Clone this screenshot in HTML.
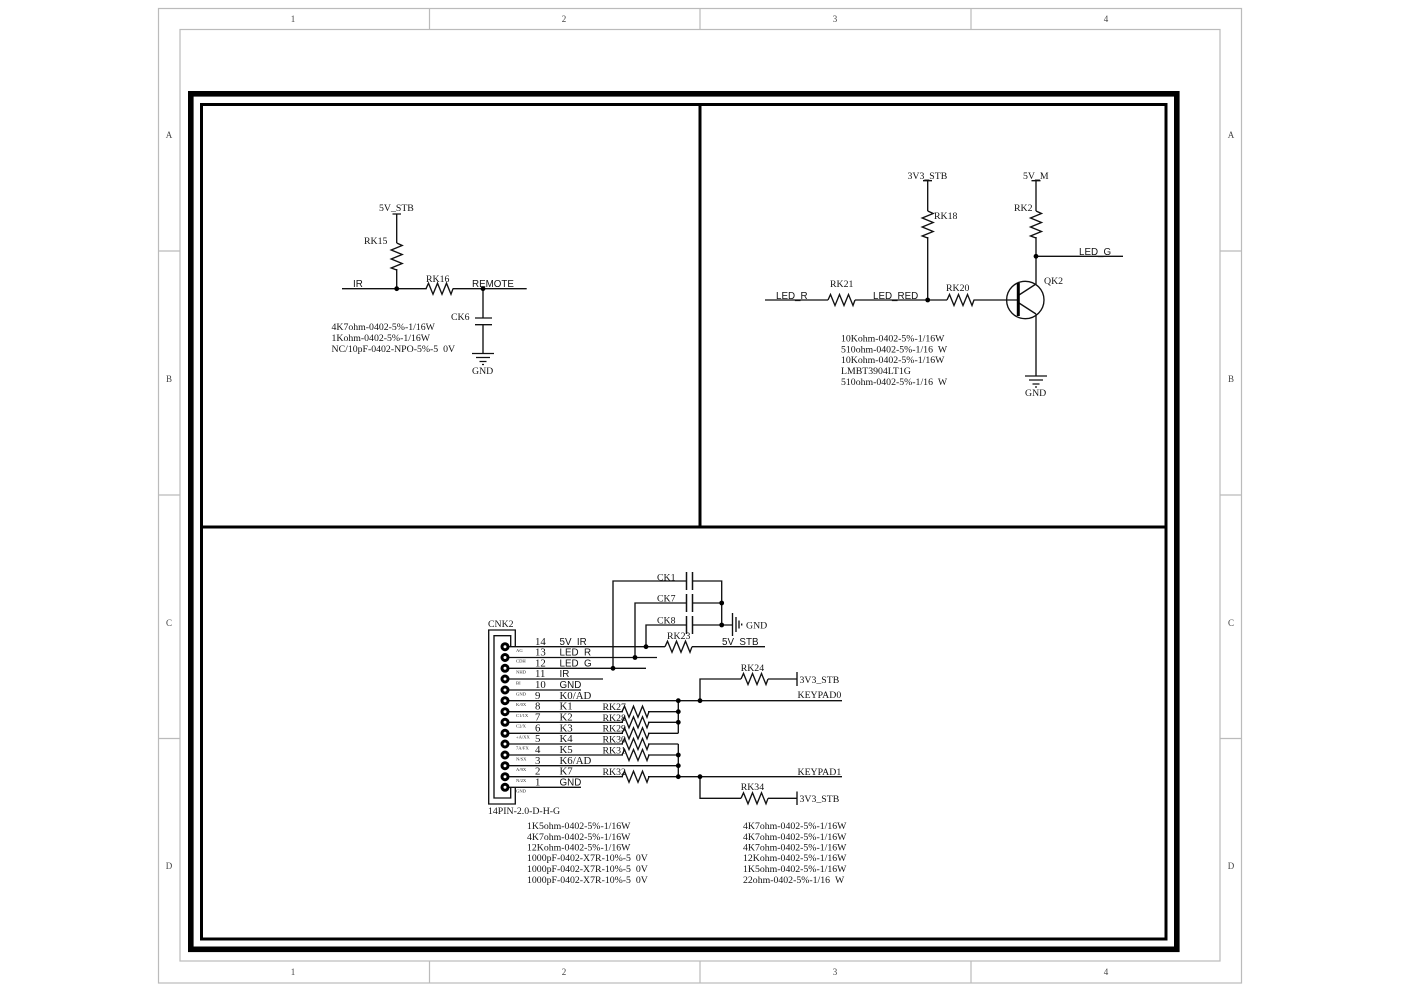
<!DOCTYPE html>
<html><head><meta charset="utf-8"><style>
html,body{margin:0;padding:0;background:#fff;width:1404px;height:992px;overflow:hidden}
svg{display:block}
text{font-family:"Liberation Serif",serif;font-size:9.8px;fill:#111}
.s{font-family:"Liberation Sans",sans-serif;font-size:9.8px}
.p{font-size:10.8px}
.t{font-size:4.6px;fill:#222}
.b{font-size:9px;fill:#444}
.w{fill:none;stroke:#111;stroke-width:1.35}
</style></head><body>
<svg width="1404" height="992" viewBox="0 0 1404 992" xmlns="http://www.w3.org/2000/svg">
<defs>
<path id="rh" d="M0 0L2.5-5.5L7 5.5L11.5-5.5L16 5.5L20.5-5.5L25 5.5L27 0" fill="none" stroke="#111" stroke-width="1.35"/>
<path id="gnd" d="M-11 0H11M-7 4H7M-3.5 8H3.5M-1 11H1" fill="none" stroke="#111" stroke-width="1.35"/>
</defs>
<g fill="none" stroke="#bbb" stroke-width="1.2">
<rect x="158.5" y="8.5" width="1083" height="974.5"/>
<rect x="180" y="29.5" width="1040" height="931.5"/>
<path d="M429.5 8V29M700 8V29M971 8V29M429.5 961V983M700 961V983M971 961V983M158 251H180M158 495H180M158 738.5H180M1220 251H1241M1220 495H1241M1220 738.5H1241"/>
</g>
<g>
<text class="b" x="293" y="22" text-anchor="middle">1</text><text class="b" x="564" y="22" text-anchor="middle">2</text><text class="b" x="835" y="22" text-anchor="middle">3</text><text class="b" x="1106" y="22" text-anchor="middle">4</text>
<text class="b" x="293" y="975" text-anchor="middle">1</text><text class="b" x="564" y="975" text-anchor="middle">2</text><text class="b" x="835" y="975" text-anchor="middle">3</text><text class="b" x="1106" y="975" text-anchor="middle">4</text>
<text class="b" x="169" y="138" text-anchor="middle">A</text><text class="b" x="169" y="382" text-anchor="middle">B</text><text class="b" x="169" y="626" text-anchor="middle">C</text><text class="b" x="169" y="869" text-anchor="middle">D</text>
<text class="b" x="1231" y="138" text-anchor="middle">A</text><text class="b" x="1231" y="382" text-anchor="middle">B</text><text class="b" x="1231" y="626" text-anchor="middle">C</text><text class="b" x="1231" y="869" text-anchor="middle">D</text>
</g>
<rect x="190.8" y="93.8" width="986" height="855.5" fill="none" stroke="#000" stroke-width="5.6"/>
<rect x="201.5" y="104.5" width="964.5" height="834.5" fill="none" stroke="#000" stroke-width="3"/>
<path d="M201 527H1166M700 105V527" fill="none" stroke="#000" stroke-width="3"/>

<!-- top-left -->
<path class="w" d="M392.5 214H401M396.7 214V243M396.7 269V288.7M342 288.7H426.7M452.7 288.7H526.7M483 288.7V318M475 318H492M475 324.7H492M483 324.7V353.5"/>
<use href="#rh" transform="translate(396.7,243) rotate(90)"/>
<use href="#rh" transform="translate(426,288.7)"/>
<use href="#gnd" transform="translate(483,353.5)"/>
<circle cx="396.7" cy="288.7" r="2.4"/><circle cx="483" cy="288.7" r="2.4"/>
<text x="379" y="211">5V_STB</text><text x="364" y="244">RK15</text><text class="s" x="353" y="287">IR</text>
<text x="426" y="282">RK16</text><text class="s" x="472" y="287">REMOTE</text><text x="451" y="320">CK6</text><text x="472" y="374">GND</text>
<text x="331.5" y="330">4K7ohm-0402-5%-1/16W</text><text x="331.5" y="341">1Kohm-0402-5%-1/16W</text><text x="331.5" y="352">NC/10pF-0402-NPO-5%-5&#160;&#160;0V</text>

<!-- top-right -->
<path class="w" d="M923 180.7H932M927.7 180.7V211M927.7 237V300M1031.5 180.7H1040.5M1036 180.7V211M1036 237V284M1036 256.3H1123M765 300H828M855 300H947M973.5 300H1018M1019 295L1036 284M1019 303L1036 314M1036 314V376"/>
<use href="#rh" transform="translate(927.7,211) rotate(90)"/>
<use href="#rh" transform="translate(1036,211) rotate(90)"/>
<use href="#rh" transform="translate(828,300)"/>
<use href="#rh" transform="translate(947,300)"/>
<circle class="w" cx="1025.3" cy="300" r="18.7"/>
<path d="M1018.3 283V316" stroke="#000" stroke-width="3"/>
<use href="#gnd" transform="translate(1036,376)"/>
<circle cx="927.7" cy="300" r="2.4"/><circle cx="1036" cy="256.3" r="2.4"/>
<text x="907.5" y="179">3V3_STB</text><text x="1023" y="179">5V_M</text><text x="934" y="219">RK18</text><text x="1014" y="211">RK2</text>
<text class="s" x="1079" y="255">LED_G</text><text x="1044" y="284">QK2</text><text class="s" x="776" y="299">LED_R</text><text x="830" y="287">RK21</text>
<text class="s" x="873" y="299">LED_RED</text><text x="946" y="291">RK20</text><text x="1025" y="396">GND</text>
<text x="841" y="341.5">10Kohm-0402-5%-1/16W</text><text x="841" y="352.5">510ohm-0402-5%-1/16&#160;&#160;W</text><text x="841" y="363">10Kohm-0402-5%-1/16W</text><text x="841" y="374">LMBT3904LT1G</text><text x="841" y="385">510ohm-0402-5%-1/16&#160;&#160;W</text>

<!-- connector -->
<path class="w" d="M515.3 646.7V630H488.7V804H515.3V787.3M510.7 646.7V635.7H494V798H510.7V787.3"/>
<path class="w" d="M508 646.7H665M692 646.7H765M508 657.5H657M508 668.3H646M508 679H603M508 690H581M508 700.7H842M508 711.7H623M648 711.7H678.3M508 722.3H623M648 722.3H678.3M508 733.3H623M648 733.3H678.3M508 744H623M648 744H678.3M508 755H623M648 755H678.3M508 765.7H678.3M508 776.7H623M648 776.7H842M508 787.3H581M678.3 700.7V733.3M678.3 744V776.7M700 700.7V679H741M768 679H797M797 672V686M700 776.7V798.3H741M768 798.3H797M797 791.5V805"/>
<g fill="#fff" stroke="#000" stroke-width="3">
<circle cx="505" cy="646.7" r="3"/><circle cx="505" cy="657.5" r="3"/><circle cx="505" cy="668.3" r="3"/><circle cx="505" cy="679" r="3"/><circle cx="505" cy="690" r="3"/><circle cx="505" cy="700.7" r="3"/><circle cx="505" cy="711.7" r="3"/><circle cx="505" cy="722.3" r="3"/><circle cx="505" cy="733.3" r="3"/><circle cx="505" cy="744" r="3"/><circle cx="505" cy="755" r="3"/><circle cx="505" cy="765.7" r="3"/><circle cx="505" cy="776.7" r="3"/><circle cx="505" cy="787.3" r="3"/>
</g>
<g><use href="#rh" transform="translate(622,711.7)"/><use href="#rh" transform="translate(622,722.3)"/><use href="#rh" transform="translate(622,733.3)"/><use href="#rh" transform="translate(622,744)"/><use href="#rh" transform="translate(622,755)"/><use href="#rh" transform="translate(622,776.7)"/><use href="#rh" transform="translate(665,646.7)"/><use href="#rh" transform="translate(741,679)"/><use href="#rh" transform="translate(741,798.3)"/></g>
<path class="w" d="M613 668.3V581H686M635 657.5V603H686M646 646.7V625H686M693 581H721.7V625M693 603H721.7M693 625H732"/>
<path d="M686.5 572V590M692.5 572V590M686.5 594V612M692.5 594V612M686.5 616V634M692.5 616V634" fill="none" stroke="#111" stroke-width="1.5"/>
<path class="w" d="M732.5 613V636M736 617V632M739 620.5V628.5M741.7 623.5V625.5"/>
<g><circle cx="613" cy="668.3" r="2.4"/><circle cx="635" cy="657.5" r="2.4"/><circle cx="646" cy="646.7" r="2.4"/><circle cx="721.7" cy="603" r="2.4"/><circle cx="721.7" cy="625" r="2.4"/><circle cx="678.3" cy="700.7" r="2.4"/><circle cx="678.3" cy="711.7" r="2.4"/><circle cx="678.3" cy="722.3" r="2.4"/><circle cx="678.3" cy="755" r="2.4"/><circle cx="678.3" cy="765.7" r="2.4"/><circle cx="678.3" cy="776.7" r="2.4"/><circle cx="700" cy="700.7" r="2.4"/><circle cx="700" cy="776.7" r="2.4"/></g>

<text x="488" y="627">CNK2</text><text x="488" y="814">14PIN-2.0-D-H-G</text>
<g transform="translate(0,-0.7)">
<text class="p" x="535" y="645.5">14</text><text class="p" x="535" y="656">13</text><text class="p" x="535" y="667">12</text><text class="p" x="535" y="677.5">11</text><text class="p" x="535" y="688.5">10</text><text class="p" x="535" y="699.5">9</text><text class="p" x="535" y="710">8</text><text class="p" x="535" y="721">7</text><text class="p" x="535" y="732">6</text><text class="p" x="535" y="742.5">5</text><text class="p" x="535" y="753.5">4</text><text class="p" x="535" y="764.5">3</text><text class="p" x="535" y="775">2</text><text class="p" x="535" y="786">1</text>
<text class="s" x="559.5" y="645.5">5V_IR</text><text class="s" x="559.5" y="656">LED_R</text><text class="s" x="559.5" y="667">LED_G</text><text class="s" x="559.5" y="677.5">IR</text><text class="s" x="559.5" y="688.5">GND</text>
<text class="p" x="559.5" y="699.5">K0/AD</text><text class="p" x="559.5" y="710">K1</text><text class="p" x="559.5" y="721">K2</text><text class="p" x="559.5" y="732">K3</text><text class="p" x="559.5" y="742.5">K4</text><text class="p" x="559.5" y="753.5">K5</text><text class="p" x="559.5" y="764.5">K6/AD</text><text class="p" x="559.5" y="775">K7</text><text class="s" x="559.5" y="786">GND</text>
</g>
<g>
<text class="t" x="516" y="652">AG</text><text class="t" x="516" y="662.7">CDH</text><text class="t" x="516" y="673.7">NHD</text><text class="t" x="516" y="684.7">BI</text><text class="t" x="516" y="695.3">GND</text><text class="t" x="516" y="706">K/0X</text><text class="t" x="516" y="717">C1/1X</text><text class="t" x="516" y="727.7">C2/X</text><text class="t" x="516" y="738.7">+A/XX</text><text class="t" x="516" y="749.3">7A/FX</text><text class="t" x="516" y="760.3">N/SX</text><text class="t" x="516" y="771">A/9X</text><text class="t" x="516" y="782">N/2X</text><text class="t" x="516" y="792.7">GND</text>
</g>
<text x="602.5" y="710">RK27</text><text x="602.5" y="721">RK28</text><text x="602.5" y="731.5">RK29</text><text x="602.5" y="742.5">RK30</text><text x="602.5" y="753.5">RK31</text><text x="602.5" y="775">RK32</text>
<text x="657" y="580.5">CK1</text><text x="657" y="601.5">CK7</text><text x="657" y="623.5">CK8</text><text x="667" y="639">RK23</text><text class="s" x="722" y="645">5V_STB</text>
<text x="746" y="628.5">GND</text><text x="740.7" y="671">RK24</text><text x="799.5" y="683">3V3_STB</text><text x="797.5" y="698">KEYPAD0</text><text x="797.5" y="775">KEYPAD1</text><text x="740.7" y="790">RK34</text><text x="799.5" y="802">3V3_STB</text>
<text x="527" y="829">1K5ohm-0402-5%-1/16W</text><text x="527" y="840">4K7ohm-0402-5%-1/16W</text><text x="527" y="850.5">12Kohm-0402-5%-1/16W</text><text x="527" y="861">1000pF-0402-X7R-10%-5&#160;&#160;0V</text><text x="527" y="872">1000pF-0402-X7R-10%-5&#160;&#160;0V</text><text x="527" y="883">1000pF-0402-X7R-10%-5&#160;&#160;0V</text>
<text x="743" y="829">4K7ohm-0402-5%-1/16W</text><text x="743" y="840">4K7ohm-0402-5%-1/16W</text><text x="743" y="850.5">4K7ohm-0402-5%-1/16W</text><text x="743" y="861">12Kohm-0402-5%-1/16W</text><text x="743" y="872">1K5ohm-0402-5%-1/16W</text><text x="743" y="883">22ohm-0402-5%-1/16&#160;&#160;W</text>
</svg>
</body></html>
